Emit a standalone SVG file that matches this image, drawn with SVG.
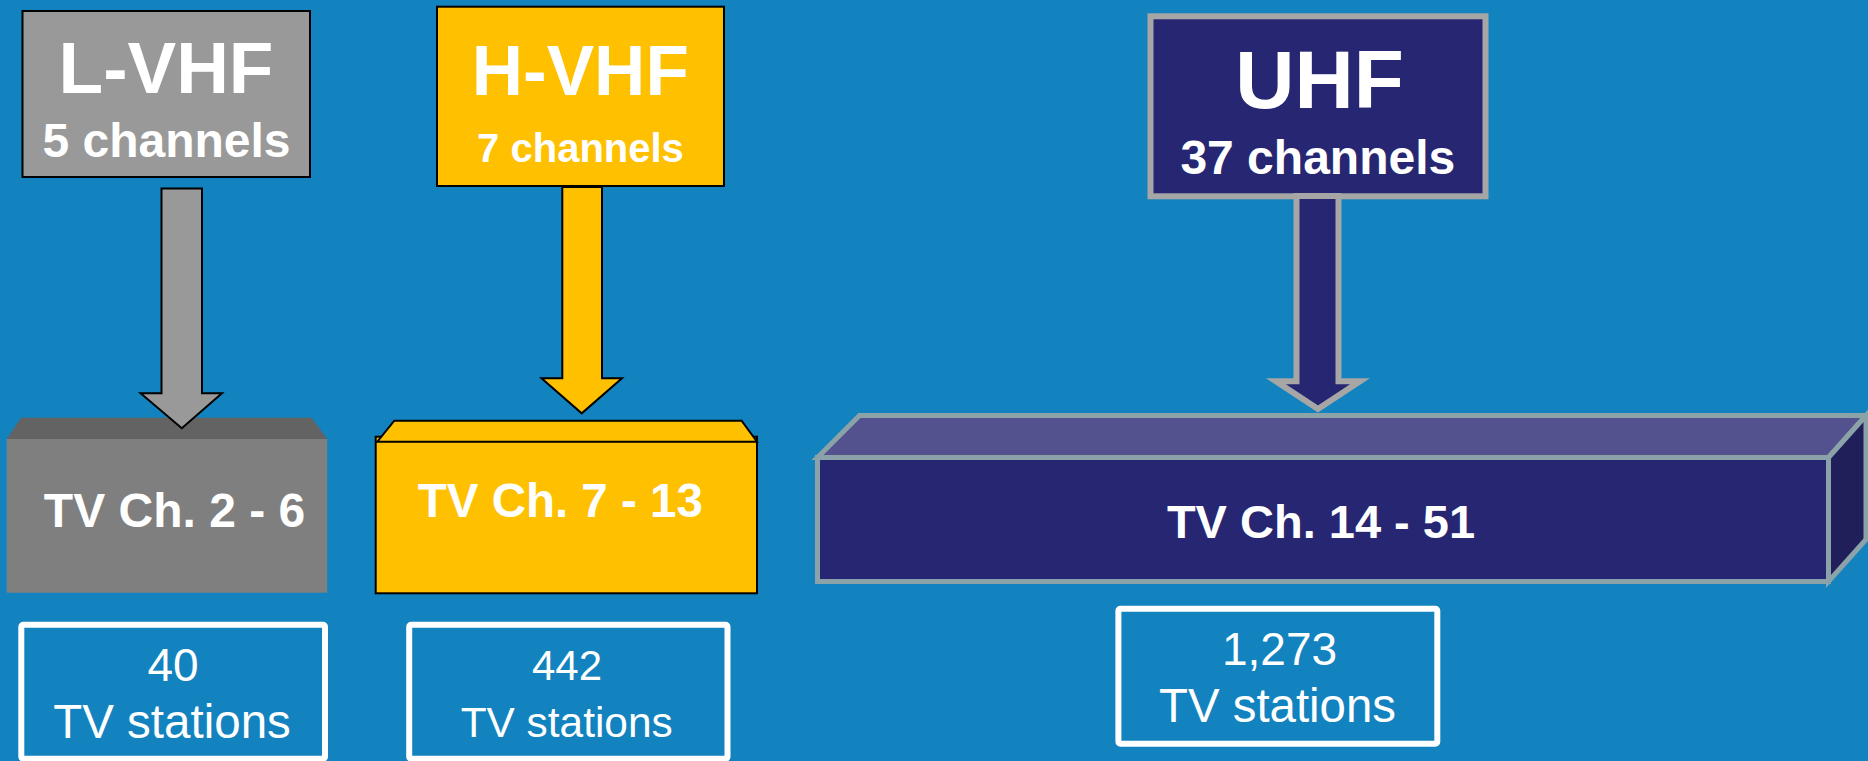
<svg xmlns="http://www.w3.org/2000/svg" width="1868" height="761" viewBox="0 0 1868 761">
<style>
.t{font-family:"Liberation Sans",Arial,sans-serif;fill:#fff;text-anchor:middle}
.b{font-weight:bold}
.st{fill:none;stroke:#fff;stroke-width:6}
</style>
<rect x="0" y="0" width="1868" height="761" fill="#1283BE"/>
<g id="lvhf-label">
<rect x="22.5" y="11" width="287.5" height="166" fill="#999999" stroke="#000" stroke-width="2"/>
<text class="t b" x="166" y="92.7" font-size="73">L-VHF</text>
<text class="t b" x="166.5" y="157" font-size="48">5 channels</text>
</g>
<g id="hvhf-label">
<rect x="437" y="6.7" width="287" height="179.3" fill="#FFC000" stroke="#000" stroke-width="2"/>
<text class="t b" x="580.3" y="95" font-size="71">H-VHF</text>
<text class="t b" x="580.5" y="162.3" font-size="40">7 channels</text>
</g>
<g id="uhf-label">
<rect x="1150.5" y="16.3" width="335" height="180" fill="#262672" stroke="#A6A6A6" stroke-width="6"/>
<text class="t b" x="1319.5" y="108.3" font-size="82">UHF</text>
<text class="t b" x="1317.8" y="174.3" font-size="48">37 channels</text>
</g>
<g id="lvhf-band">
<rect x="6.7" y="439" width="320.5" height="153.7" fill="#7F7F7F"/>
<polygon points="21,417.7 311.7,417.7 327.2,439 6.7,439" fill="#636363"/>
<text class="t b" x="174.5" y="526.7" font-size="48">TV Ch. 2 - 6</text>
</g>
<g id="hvhf-band">
<rect x="375.7" y="436.7" width="381.3" height="156.6" fill="#FFC000" stroke="#000" stroke-width="2"/>
<polygon points="394.3,420.7 741.6,420.7 757,441.7 377.3,441.7" fill="#FFC000" stroke="#000" stroke-width="2" stroke-linejoin="miter"/>
<text class="t b" x="560.3" y="516.7" font-size="47.5">TV Ch. 7 - 13</text>
</g>
<g id="uhf-band">
<g stroke="#8BA3A8" stroke-width="5" stroke-linejoin="miter">
<rect x="817.5" y="457.5" width="1011" height="124" fill="#262672"/>
<polygon points="817.5,457.5 859.5,415.5 1866,415.5 1828.5,457.5" fill="#54528E"/>
<polygon points="1828.5,457.5 1866,415.5 1866,539.5 1828.5,581.5" fill="#201F5A"/>
</g>
<text class="t b" x="1321" y="538.3" font-size="47">TV Ch. 14 - 51</text>
</g>
<g id="lvhf-stations">
<rect class="st" x="21.3" y="624.7" width="303.7" height="134" rx="2"/>
<text class="t" x="173" y="681" font-size="46">40</text>
<text class="t" x="172" y="738.3" font-size="47.5">TV stations</text>
</g>
<g id="hvhf-stations">
<rect class="st" x="409.2" y="624.7" width="318.3" height="134" rx="2"/>
<text class="t" x="567" y="680" font-size="42">442</text>
<text class="t" x="566.7" y="736.7" font-size="42.4">TV stations</text>
</g>
<g id="uhf-stations">
<rect class="st" x="1118.4" y="608.7" width="318.9" height="135" rx="2"/>
<text class="t" x="1279.5" y="665" font-size="46">1,273</text>
<text class="t" x="1277.5" y="721.7" font-size="47.4">TV stations</text>
</g>
<g id="connectors">
<polygon points="161.5,188.5 202,188.5 202,393.3 222,393.3 181.8,428.3 140.6,393.3 161.5,393.3" fill="#999999" stroke="#000" stroke-width="2" stroke-linejoin="miter"/>
<polygon points="562.3,187 602,187 602,378.3 622,378.3 581.7,413.3 541.5,378.3 562.3,378.3" fill="#FFC000" stroke="#000" stroke-width="2"/>
<polygon points="1296.5,196 1338.5,196 1338.5,381.3 1360,381.3 1318,409 1276,381.3 1296.5,381.3" fill="#262672" stroke="#A6A6A6" stroke-width="6"/>
</g>
</svg>
